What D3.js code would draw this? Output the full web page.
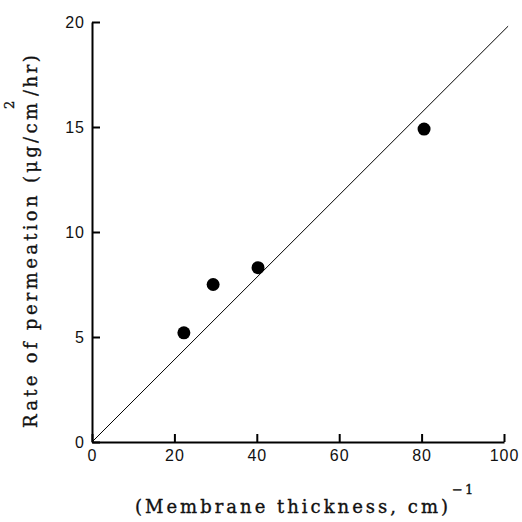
<!DOCTYPE html>
<html>
<head>
<meta charset="utf-8">
<script src="https://cdn.jsdelivr.net/npm/d3@7"></script>
<style>
  body { margin: 0; background: #fff; }
  .tick text { font-family: "Liberation Sans", Arial, sans-serif; }
  .ttl { font-family: "DejaVu Serif", serif; fill: #111; stroke: #111; stroke-width: 0.35; }
</style>
</head>
<body>
<div id="chart"></div>
<script>
var width = 522;
var height = 522;

// measured points
const thickInv = [22.3, 29.4, 40.3, 80.6];
const rate = [5.2, 7.5, 8.3, 14.9];
// fitted line
const lineX = [0, 101];
const lineY = [0, 19.8];
const xTicks = [0, 20, 40, 60, 80, 100];
const yTicks = [0, 5, 10, 15, 20];

var x = d3.scaleLinear().domain([0, 100]).range([92, 504]);
var y = d3.scaleLinear().domain([0, 20]).range([442, 22]);

let svg = d3.select("#chart")
  .append("svg")
  .attr("width", width)
  .attr("height", height);

function styleAxis(g) {
  g.select(".domain").attr("stroke-width", 2);
  g.selectAll(".tick line").attr("stroke-width", 2);
  g.selectAll(".tick text").attr("font-size", 16).attr("letter-spacing", 1).attr("fill", "#111");
}

svg.append("g")
  .attr("transform", "translate(0,442)")
  .call(d3.axisBottom(x).tickValues(xTicks).tickSizeInner(-8).tickSizeOuter(0).tickPadding(8))
  .call(styleAxis);

svg.append("g")
  .attr("transform", "translate(92,0)")
  .call(d3.axisLeft(y).tickValues(yTicks).tickSizeInner(-8).tickSizeOuter(0).tickPadding(7))
  .call(styleAxis);

var line = d3.line().x(d => x(d[0])).y(d => y(d[1]));
svg.append("path")
  .datum(d3.zip(lineX, lineY))
  .attr("d", line)
  .attr("fill", "none")
  .attr("stroke", "#000")
  .attr("stroke-width", 1);

svg.selectAll("circle.pt")
  .data(d3.zip(thickInv, rate))
  .enter().append("circle")
  .attr("class", "pt")
  .attr("cx", d => x(d[0]))
  .attr("cy", d => y(d[1]))
  .attr("r", 6.5)
  .attr("fill", "#000");

// x title
svg.append("text")
  .attr("class", "ttl")
  .attr("x", 135).attr("y", 513)
  .attr("font-size", 18)
  .attr("textLength", 313).attr("lengthAdjust", "spacing")
  .text("(Membrane thickness, cm)");
svg.append("text")
  .attr("class", "ttl")
  .attr("x", 452).attr("y", 494)
  .attr("font-size", 13)
  .attr("letter-spacing", 2)
  .text("\u22121");

// y title
svg.append("text")
  .attr("class", "ttl")
  .attr("transform", "translate(37,428) rotate(-90)")
  .attr("font-size", 18)
  .attr("textLength", 325).attr("lengthAdjust", "spacing")
  .text("Rate of permeation (\u03bcg/cm");
svg.append("text")
  .attr("class", "ttl")
  .attr("transform", "translate(14,109) rotate(-90)")
  .attr("font-size", 13)
  .text("2");
svg.append("text")
  .attr("class", "ttl")
  .attr("transform", "translate(37,96) rotate(-90)")
  .attr("font-size", 18)
  .attr("letter-spacing", 2.5)
  .text("/hr)");
</script>
</body>
</html>
